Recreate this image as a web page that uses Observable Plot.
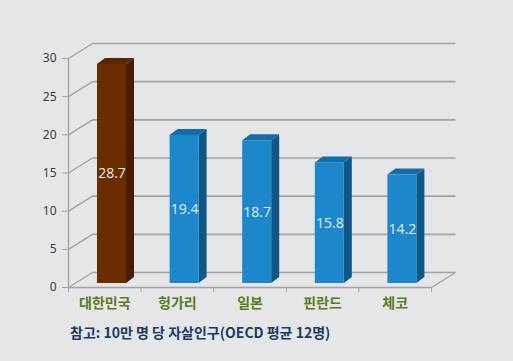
<!DOCTYPE html>
<html>
<head>
<meta charset="utf-8">
<script src="https://cdn.jsdelivr.net/npm/d3@7"></script>
<script src="https://cdn.jsdelivr.net/npm/@observablehq/plot@0.6"></script>
<style>
  html, body { margin: 0; padding: 0; background: #E5E6E8; }
  #wrap { width: 513px; height: 361px; position: relative; overflow: hidden; }
  #caption { font-family: "Noto Sans CJK KR", sans-serif; font-weight: bold; font-size: 14px;
             color: #1F3A62; padding-left: 70px; line-height: 24px; }
</style>
</head>
<body>
<div id="wrap"><div id="chart"></div><div id="caption"></div></div>
<script>
// ---- data ----
const countries = ["대한민국", "헝가리", "일본", "핀란드", "체코"];
const rates = [28.7, 19.4, 18.7, 15.8, 14.2];
const yTicks = [0, 5, 10, 15, 20, 25, 30];
const captionText = "참고: 10만 명 당 자살인구(OECD 평균 12명)";

// ---- layout / 3D geometry (pixels) ----
const W = 513, H = 320;
const ml = 68, mr = 82, mt = 58, mb = 33;
const kx = (W - ml - mr) / countries.length;  // px per category
const ky = (H - mt - mb) / 30;                 // px per unit
const DX = 24 / kx, DY = 15 / ky;              // wall depth
const BL = 29 / kx, BR = 58 / kx;              // bar front face within category
const BO = 4 / ky;                             // bar front offset (vertical)
const bdx = 8 / kx, bdy = 6 / ky;              // bar depth

const front = i => i === 0 ? "#6B2C00" : "#1C87CA";
const side  = i => i === 0 ? "#4A1D02" : "#0F5786";
const top_  = i => i === 0 ? "#5A2500" : "#136DA6";

const rows = countries.map((c, i) => ({c, v: rates[i], i}));
const sidePts = rows.flatMap(d => [
  {i: d.i, x1: d.i + BR, x2: d.i + BR, y1: BO, y2: d.v + BO},
  {i: d.i, x1: d.i + BR + bdx, x2: d.i + BR + bdx, y1: BO + bdy, y2: d.v + BO + bdy}
]);
const topPts = rows.flatMap(d => [
  {i: d.i, x1: d.i + BL, x2: d.i + BR, y1: d.v + BO, y2: d.v + BO},
  {i: d.i, x1: d.i + BL + bdx, x2: d.i + BR + bdx, y1: d.v + BO + bdy, y2: d.v + BO + bdy}
]);

const grid = "#A3A3A3";
const n = countries.length;

const chart = Plot.plot({
  width: W, height: H,
  marginLeft: ml, marginRight: mr, marginTop: mt, marginBottom: mb,
  x: {domain: [0, n], axis: null},
  y: {domain: [0, 30], axis: null},
  color: {type: "identity"},
  style: {background: "transparent", fontFamily: "'Noto Sans', sans-serif", fontSize: "12px", color: "#404040"},
  marks: [
    // back wall gridlines
    Plot.link(yTicks, {x1: () => DX, x2: () => n + DX, y1: d => d + DY, y2: d => d + DY, stroke: grid, strokeWidth: 1.6}),
    // left wall diagonals
    Plot.link(yTicks, {x1: () => 0, x2: () => DX, y1: d => d, y2: d => d + DY, stroke: grid, strokeWidth: 1.4}),
    // floor right edge
    Plot.link([0], {x1: () => n, x2: () => n + DX, y1: () => 0, y2: () => DY, stroke: grid, strokeWidth: 1.4}),
    // front floor & axis
    Plot.ruleY([0], {x1: 0, x2: n, stroke: grid, strokeWidth: 1.4}),
    Plot.ruleX([0], {y1: 0, y2: 30, stroke: grid, strokeWidth: 1.4}),
    Plot.axisY({ticks: yTicks, tickSize: 6, tickPadding: 6, stroke: grid, fill: "#3A3A3A", fontSize: 12}),
    Plot.axisX({ticks: d3.range(n + 1), tickSize: 5, tickFormat: () => "", stroke: grid}),
    // bars
    Plot.area(sidePts, {x1: "x1", x2: "x2", y1: "y1", y2: "y2", z: "i", fill: d => side(d.i), curve: "linear"}),
    Plot.area(topPts, {x1: "x1", x2: "x2", y1: "y1", y2: "y2", z: "i", fill: d => top_(d.i), curve: "linear"}),
    Plot.rect(rows, {x1: d => d.i + BL, x2: d => d.i + BR, y1: () => BO, y2: d => d.v + BO, fill: d => front(d.i)}),
    Plot.text(rows, {x: d => d.i + (BL + BR) / 2, y: d => d.v / 2 + BO, text: d => d.v.toFixed(1),
      fill: "#E6ECF0", fontSize: 14, fontFamily: "'Open Sans', sans-serif"}),
    // category labels
    Plot.text(countries, {x: (d, i) => i + 0.5, y: () => 0, dy: 16, text: d => d,
      fill: "#5B7A22", fontSize: 14, fontWeight: "bold", fontFamily: "'Noto Sans CJK KR', sans-serif"})
  ]
});
document.getElementById("chart").appendChild(chart);
document.getElementById("caption").textContent = captionText;
</script>
</body>
</html>
